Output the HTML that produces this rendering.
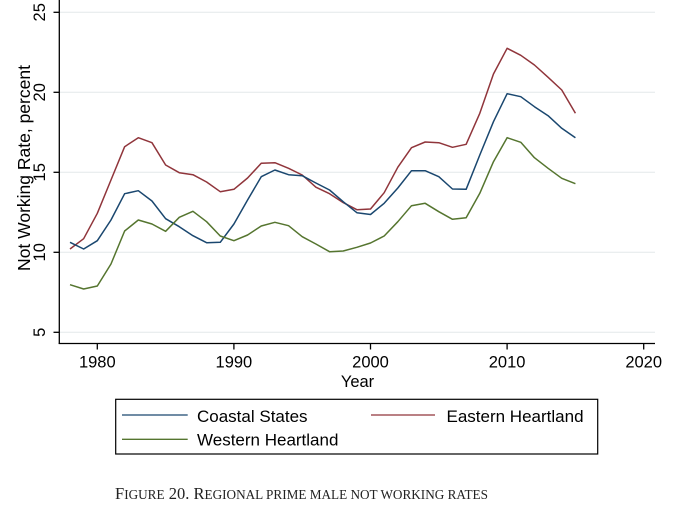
<!DOCTYPE html>
<html><head><meta charset="utf-8"><style>
html,body{margin:0;padding:0;background:#fff;}
svg{display:block;}
text{font-family:"Liberation Sans",Arial,sans-serif;fill:#000;}
</style></head><body>
<svg width="675" height="521" viewBox="0 0 675 521" xmlns="http://www.w3.org/2000/svg">
<rect width="675" height="521" fill="#fff"/>
<!-- gridlines -->
<g stroke="#e4e8ea" stroke-width="1">
<line x1="60" y1="12.3" x2="655" y2="12.3"/>
<line x1="60" y1="92.3" x2="655" y2="92.3"/>
<line x1="60" y1="172.3" x2="655" y2="172.3"/>
<line x1="60" y1="252.3" x2="655" y2="252.3"/>
<line x1="60" y1="332.3" x2="655" y2="332.3"/>
</g>
<!-- axes -->
<g stroke="#000" stroke-width="1.3" fill="none">
<line x1="59.3" y1="0" x2="59.3" y2="344"/>
<line x1="58.7" y1="343.5" x2="655" y2="343.5"/>
<line x1="53.5" y1="12.3" x2="59.3" y2="12.3"/>
<line x1="53.5" y1="92.3" x2="59.3" y2="92.3"/>
<line x1="53.5" y1="172.3" x2="59.3" y2="172.3"/>
<line x1="53.5" y1="252.3" x2="59.3" y2="252.3"/>
<line x1="53.5" y1="332.3" x2="59.3" y2="332.3"/>
<line x1="97.3" y1="343.5" x2="97.3" y2="349.5"/>
<line x1="233.9" y1="343.5" x2="233.9" y2="349.5"/>
<line x1="370.5" y1="343.5" x2="370.5" y2="349.5"/>
<line x1="507.1" y1="343.5" x2="507.1" y2="349.5"/>
<line x1="643.7" y1="343.5" x2="643.7" y2="349.5"/>
</g>
<!-- y tick labels -->
<g font-size="16.5" text-anchor="middle">
<text transform="translate(45,12.3) rotate(-90)">25</text>
<text transform="translate(45,92.3) rotate(-90)">20</text>
<text transform="translate(45,172.3) rotate(-90)">15</text>
<text transform="translate(45,252.3) rotate(-90)">10</text>
<text transform="translate(45,332.3) rotate(-90)">5</text>
</g>
<text font-size="17.5" text-anchor="middle" transform="translate(30,168) rotate(-90)">Not Working Rate, percent</text>
<!-- x tick labels -->
<g font-size="16.5" text-anchor="middle">
<text x="97.3" y="367.5">1980</text>
<text x="233.9" y="367.5">1990</text>
<text x="370.5" y="367.5">2000</text>
<text x="507.1" y="367.5">2010</text>
<text x="643.7" y="367.5">2020</text>
</g>
<text x="357.5" y="387" font-size="16.5" text-anchor="middle">Year</text>
<!-- series -->
<g fill="none" stroke-width="1.5" stroke-linejoin="round">
<polyline stroke="#90353b" points="70,249 83.66,238.7 97.32,213.3 110.98,180 124.64,146.7 138.3,137.7 151.96,142.7 165.62,165 179.28,172.7 192.94,174.7 206.6,182 220.26,191.7 233.92,189.3 247.58,178 261.24,163.3 274.9,162.7 288.56,168.3 302.22,175 315.88,187.2 329.54,193.7 343.2,202.6 356.86,209.7 370.52,209 384.18,192.7 397.84,167.2 411.5,147.7 425.16,142 438.82,142.7 452.48,147.3 466.14,144.3 479.8,113.3 493.46,74 507.12,48.3 520.78,55.3 534.44,65 548.1,77.3 561.76,90 575.42,113.3"/>
<polyline stroke="#1a476f" points="70,242.3 83.66,249 97.32,240.7 110.98,220 124.64,193.7 138.3,190.7 151.96,201 165.62,218.7 179.28,226.7 192.94,235.7 206.6,242.7 220.26,242.3 233.92,224 247.58,200 261.24,176.7 274.9,170 288.56,174.7 302.22,175.7 315.88,183 329.54,190 343.2,201.7 356.86,212.7 370.52,214.5 384.18,203.3 397.84,188 411.5,170.7 425.16,170.7 438.82,176.7 452.48,189 466.14,189.3 479.8,155 493.46,121.7 507.12,93.7 520.78,96.7 534.44,106.7 548.1,115.7 561.76,128.3 575.42,137.7"/>
<polyline stroke="#55752f" points="70,284.7 83.66,289 97.32,286 110.98,264 124.64,231 138.3,220 151.96,224 165.62,231.3 179.28,217.3 192.94,211.3 206.6,221.7 220.26,236 233.92,240.7 247.58,235 261.24,226 274.9,222.3 288.56,225.7 302.22,236.7 315.88,244 329.54,251.7 343.2,251 356.86,247.3 370.52,243 384.18,236 397.84,221.7 411.5,205.7 425.16,203.3 438.82,211.7 452.48,219.3 466.14,217.7 479.8,193.3 493.46,161.7 507.12,137.7 520.78,142.3 534.44,157.7 548.1,168.3 561.76,178.3 575.42,183.7"/>
</g>
<!-- legend -->
<rect x="115.7" y="399.3" width="482" height="54.7" fill="none" stroke="#000" stroke-width="1.2"/>
<g stroke-width="1.3">
<line x1="122" y1="415" x2="187.7" y2="415" stroke="#1a476f"/>
<line x1="371" y1="415" x2="435" y2="415" stroke="#90353b"/>
<line x1="122" y1="439.3" x2="187.7" y2="439.3" stroke="#55752f"/>
</g>
<g font-size="17">
<text x="197" y="422">Coastal States</text>
<text x="446.5" y="422">Eastern Heartland</text>
<text x="197" y="445.5">Western Heartland</text>
</g>
<!-- caption -->
<text x="115" y="499" textLength="373" lengthAdjust="spacingAndGlyphs" style="font-family:'Liberation Serif','Times New Roman',serif;fill:#222;font-size:17px">F<tspan font-size="13.6">IGURE</tspan> 20. R<tspan font-size="13.6">EGIONAL PRIME MALE NOT WORKING RATES</tspan></text>
</svg>
</body></html>
